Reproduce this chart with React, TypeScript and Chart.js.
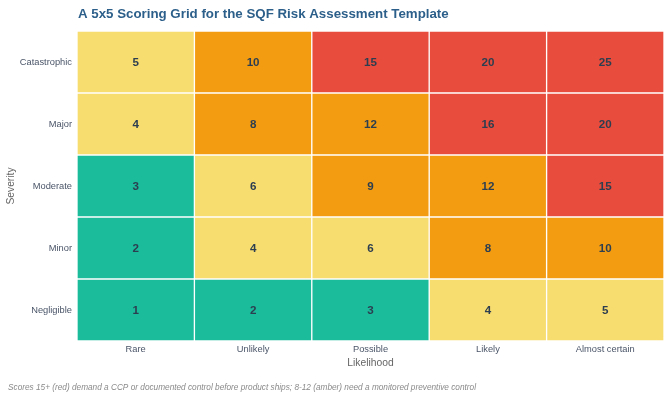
import React, { useEffect, useRef } from "react";
import { Chart, registerables } from "chart.js";

Chart.register(...registerables);

// Axis categories
const LIKELIHOOD = ["Rare", "Unlikely", "Possible", "Likely", "Almost certain"];
// Listed bottom row first, so the stack grows upward
const SEVERITY = ["Negligible", "Minor", "Moderate", "Major", "Catastrophic"];

// Each severity row fills one unit of the stacked axis in every likelihood column
const ROW_SPAN = [1, 1, 1, 1, 1];

// Risk scores per severity row, across likelihood columns
const SCORES_NEGLIGIBLE = [1, 2, 3, 4, 5];
const SCORES_MINOR = [2, 4, 6, 8, 10];
const SCORES_MODERATE = [3, 6, 9, 12, 15];
const SCORES_MAJOR = [4, 8, 12, 16, 20];
const SCORES_CATASTROPHIC = [5, 10, 15, 20, 25];

const SCORE_ROWS = [
  SCORES_NEGLIGIBLE,
  SCORES_MINOR,
  SCORES_MODERATE,
  SCORES_MAJOR,
  SCORES_CATASTROPHIC,
];

const TITLE = "A 5x5 Scoring Grid for the SQF Risk Assessment Template";
const FOOTNOTE =
  "Scores 15+ (red) demand a CCP or documented control before product ships; 8-12 (amber) need a monitored preventive control";

const FONT = "'Liberation Sans', Arial, Helvetica, sans-serif";

function scoreColor(score: number): string {
  if (score >= 15) return "#e74c3c";
  if (score >= 8) return "#f39c12";
  if (score >= 4) return "#f7dc6f";
  return "#1abc9c";
}

// Score text in the middle of each cell
const cellLabels = {
  id: "cellLabels",
  afterDatasetsDraw(chart: any) {
    const { ctx } = chart;
    ctx.save();
    ctx.font = `bold 11.6px ${FONT}`;
    ctx.fillStyle = "#2c3e50";
    ctx.textAlign = "center";
    ctx.textBaseline = "middle";
    chart.data.datasets.forEach((ds: any, di: number) => {
      const meta = chart.getDatasetMeta(di);
      meta.data.forEach((bar: any, i: number) => {
        const { x, y } = bar.getCenterPoint();
        ctx.fillText(String(SCORE_ROWS[di][i]), x, y + 1);
      });
    });
    ctx.restore();
  },
};

// Heading over the grid and the note along the bottom edge
const headings = {
  id: "headings",
  afterDraw(chart: any) {
    const { ctx, chartArea, height } = chart;
    ctx.save();
    ctx.textAlign = "left";
    ctx.textBaseline = "alphabetic";
    ctx.font = `bold 13.3px ${FONT}`;
    ctx.fillStyle = "#2c5f8a";
    ctx.fillText(TITLE, chartArea.left + 1, 18);
    ctx.font = `italic 8.25px ${FONT}`;
    ctx.fillStyle = "#8a8a8a";
    ctx.fillText(FOOTNOTE, 8, height - 10);
    ctx.restore();
  },
};

export default function App() {
  const canvasRef = useRef<HTMLCanvasElement | null>(null);

  useEffect(() => {
    if (!canvasRef.current) return;
    const chart = new Chart(canvasRef.current, {
      type: "bar",
      data: {
        labels: LIKELIHOOD,
        datasets: SEVERITY.map((name, r) => ({
          label: name,
          data: ROW_SPAN,
          backgroundColor: SCORE_ROWS[r].map(scoreColor),
          borderColor: "#ffffff",
          borderWidth: 1,
          borderSkipped: false,
          barPercentage: 1,
          categoryPercentage: 1,
        })),
      },
      options: {
        animation: false,
        responsive: true,
        maintainAspectRatio: false,
        layout: { padding: { top: 31, left: 5, right: 7, bottom: 31 } },
        plugins: {
          legend: { display: false },
          tooltip: { enabled: false },
          title: { display: false },
        },
        scales: {
          x: {
            type: "category",
            stacked: true,
            grid: { display: false, drawTicks: false },
            border: { display: false },
            ticks: {
              padding: 3,
              color: "#4a5568",
              font: { family: FONT, size: 9.3 },
            },
            title: {
              display: true,
              text: "Likelihood",
              color: "#666666",
              padding: 0,
              font: { family: FONT, size: 10.3 },
            },
            afterFit(scale: any) {
              scale.height = 28;
            },
          },
          y: {
            type: "linear",
            stacked: true,
            min: 0,
            max: SEVERITY.length,
            grid: { display: false, drawTicks: false },
            border: { display: false },
            afterBuildTicks(scale: any) {
              scale.ticks = SEVERITY.map((_, i) => ({ value: i + 0.5 }));
            },
            ticks: {
              padding: 5,
              color: "#4a5568",
              font: { family: FONT, size: 9.3 },
              callback: (value: any) => SEVERITY[Math.floor(Number(value))] ?? "",
            },
            title: {
              display: true,
              text: "Severity",
              color: "#666666",
              padding: 0,
              font: { family: FONT, size: 10.3 },
            },
            afterFit(scale: any) {
              scale.width = 72;
            },
          },
        },
      },
      plugins: [cellLabels, headings],
    });
    return () => chart.destroy();
  }, []);

  return (
    <div style={{ position: "absolute", left: 0, top: 0, width: 671, height: 400 }}>
      <canvas ref={canvasRef} />
    </div>
  );
}
